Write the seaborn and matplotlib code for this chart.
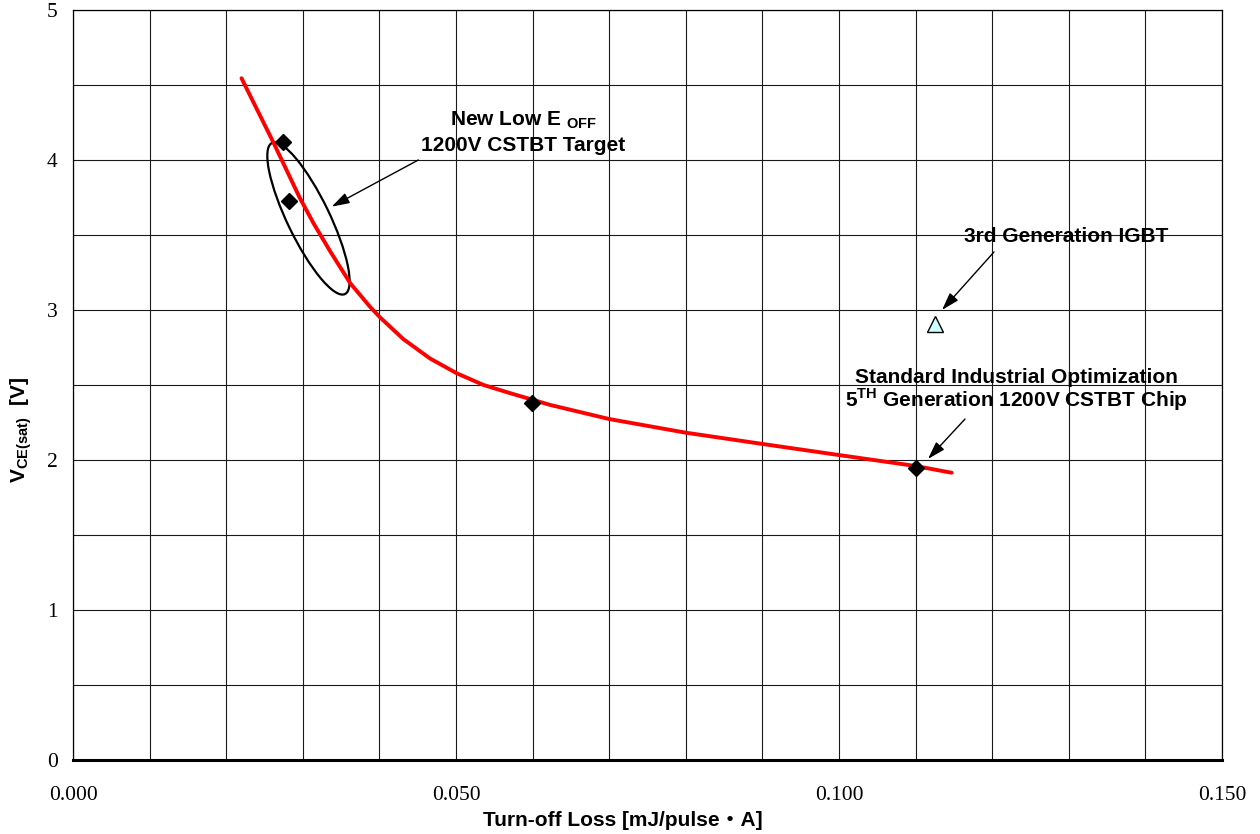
import matplotlib
matplotlib.use("Agg")
import matplotlib.pyplot as plt
import matplotlib.transforms as mtransforms
from matplotlib.patches import Ellipse
import numpy as np
import pandas as pd
import seaborn as sns

# ---------------- data ----------------
curve_x = [0.0220, 0.0262, 0.0296, 0.0314, 0.0336, 0.0362, 0.0388, 0.0401,
           0.0431, 0.0466, 0.0501, 0.0536, 0.0571, 0.0623, 0.0700, 0.0800,
           0.0900, 0.1000, 0.1100, 0.1147]
curve_y = [4.545, 4.113, 3.748, 3.578, 3.389, 3.178, 3.020, 2.950,
           2.807, 2.677, 2.578, 2.500, 2.445, 2.367, 2.273, 2.182,
           2.107, 2.033, 1.960, 1.915]

cstbt_x = [0.0274, 0.0282, 0.0599, 0.1100]
cstbt_y = [4.12, 3.73, 2.38, 1.95]

igbt3_x = [0.1125]
igbt3_y = [2.91]

x_ticks = [0.000, 0.050, 0.100, 0.150]
x_ticklabels = ["0.000", "0.050", "0.100", "0.150"]
y_ticks = [0, 1, 2, 3, 4, 5]
y_ticklabels = ["0", "1", "2", "3", "4", "5"]

# ---------------- style ----------------
sns.set_theme(style="white")
plt.rcParams["font.family"] = ["Liberation Sans", "Noto Sans CJK JP", "DejaVu Sans"]
plt.rcParams["mathtext.fontset"] = "custom"
plt.rcParams["mathtext.rm"] = "Liberation Sans"
plt.rcParams["mathtext.bf"] = "Liberation Sans:bold"

fig = plt.figure(figsize=(12.6, 8.34), dpi=100)
fig.patch.set_facecolor("white")
ax = fig.add_axes([73 / 1260, 74 / 834, 1149 / 1260, 750 / 834])
ax.set_facecolor("white")

curve_df = pd.DataFrame({"x": curve_x, "y": curve_y})
cstbt_df = pd.DataFrame({"x": cstbt_x, "y": cstbt_y})
igbt_df = pd.DataFrame({"x": igbt3_x, "y": igbt3_y})

sns.lineplot(data=curve_df, x="x", y="y", ax=ax, color="#FF0000",
             linewidth=2.8, sort=False, zorder=4)
ax.plot(cstbt_df["x"], cstbt_df["y"], linestyle="none", marker="D",
        markersize=8.6, color="black", zorder=5)
ax.plot(igbt_df["x"], igbt_df["y"], linestyle="none", marker="^",
        markersize=12, markerfacecolor="#CCFFFF", markeredgecolor="black",
        markeredgewidth=1.0, zorder=5)

ax.set_xlim(0, 0.150)
ax.set_ylim(0, 5)
ax.set_xticks(x_ticks)
ax.set_xticklabels(x_ticklabels)
ax.set_yticks(y_ticks)
ax.set_yticklabels(y_ticklabels)
ax.set_xticks(np.arange(0, 0.1501, 0.01), minor=True)
ax.set_yticks(np.arange(0, 5.01, 0.5), minor=True)
ax.grid(True, which="both", color="#1a1a1a", linewidth=0.8)
ax.set_axisbelow(True)
ax.tick_params(which="both", length=0)
ax.tick_params(axis="x", pad=19)
ax.tick_params(axis="y", pad=11)
for lab in ax.get_xticklabels() + ax.get_yticklabels():
    lab.set_fontfamily("Liberation Serif")
    lab.set_fontsize(15.5)
    lab.set_color("black")

for side in ["top", "right", "left"]:
    ax.spines[side].set_color("black")
    ax.spines[side].set_linewidth(0.9)
ax.spines["bottom"].set_color("black")
ax.spines["bottom"].set_linewidth(2.2)

ax.set_xlabel("Turn-off Loss [mJ/pulse\u30FBA]", fontsize=15, fontweight="bold",
              color="black", va="center")
ax.xaxis.set_label_coords(0.4785, -0.08)
ax.set_ylabel(r"V$_{\mathbf{CE(sat)}}$  [V]", fontsize=15, fontweight="bold",
              color="black", va="center")
ax.yaxis.set_label_coords(-0.045, 0.44)

# ellipse around the new CSTBT points (size in points, centre in data)
ell_tr = (mtransforms.Affine2D().scale(1 / 72) + fig.dpi_scale_trans +
          mtransforms.ScaledTranslation(0.03074, 3.61, ax.transData))
ax.add_patch(Ellipse((0, 0), width=2 * 60.4, height=2 * 15.2, angle=-64.2,
                     transform=ell_tr, fill=False, edgecolor="black",
                     linewidth=1.6, zorder=3))

txt_kw = dict(fontsize=15, fontweight="bold", color="black", ha="center",
              va="baseline", zorder=6)
ax.text(0.05875, 4.233, r"New Low E $_{\mathbf{OFF}}$", **txt_kw)
ax.text(0.05875, 4.062, "1200V CSTBT Target", **txt_kw)
ax.text(0.1296, 3.451, "3rd Generation IGBT", **txt_kw)
ax.text(0.1231, 2.515, "Standard Industrial Optimization", **txt_kw)
ax.text(0.1231, 2.355, r"5$^{\mathbf{TH}}$ Generation 1200V CSTBT Chip", **txt_kw)

arrow_kw = dict(arrowstyle="-|>,head_length=0.9,head_width=0.28", color="black",
                lw=1.0, shrinkA=0, shrinkB=0)
ax.annotate("", xy=(0.03377, 3.689), xytext=(0.04508, 4.0), arrowprops=arrow_kw)
ax.annotate("", xy=(0.11345, 3.0), xytext=(0.12024, 3.387), arrowprops=arrow_kw)
ax.annotate("", xy=(0.11162, 2.007), xytext=(0.11645, 2.273), arrowprops=arrow_kw)

fig.savefig("out.png", dpi=100, facecolor="white")
